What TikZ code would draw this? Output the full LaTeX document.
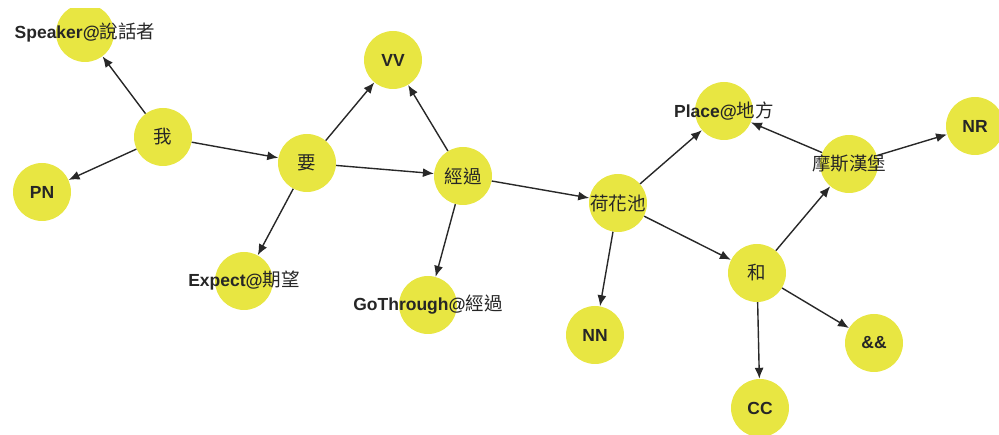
\documentclass[tikz,border=0pt]{standalone}
\usepackage{fontspec}
\setmainfont{Liberation Sans}
\newfontfamily\cjk{Noto Sans CJK TC}
\usetikzlibrary{arrows.meta}
\definecolor{nodeyellow}{RGB}{232,230,66}
\definecolor{edgegray}{RGB}{40,40,40}
\newcommand{\zhtext}[1]{{\cjk\mdseries\fontsize{18.5}{20}\selectfont #1}}

\begin{document}
\begin{tikzpicture}[x=1pt, y=-1pt,
		vertex/.style={shape=circle, fill=nodeyellow, minimum size=58pt, inner sep=0pt},
		tag/.style={label={[font=\fontsize{17.5}{20}\selectfont\bfseries, text=black!85, inner sep=0pt]center:#1}}]
				\useasboundingbox (0,0) rectangle (999,435);
				\clip (0,9) rectangle (999,435);
				\node[vertex, tag={Speaker@\zhtext{說話者}}] (speaker) at (85,33) {};
				\node[vertex, tag={\zhtext{我}}] (wo) at (163,137) {};
				\node[vertex, tag={PN}] (pn) at (42,192) {};
				\node[vertex, tag={\zhtext{要}}] (yao) at (307,163) {};
				\node[vertex, tag={VV}] (vv) at (393,60) {};
				\node[vertex, tag={\zhtext{經過}}] (jingguo) at (463,176) {};
				\node[vertex, tag={Expect@\zhtext{期望}}] (expect) at (244,281) {};
				\node[vertex, tag={GoThrough@\zhtext{經過}}] (gothrough) at (428,305) {};
				\node[vertex, tag={\zhtext{荷花池}}] (hehuachi) at (618,203) {};
				\node[vertex, tag={Place@\zhtext{地方}}] (place) at (724,111) {};
				\node[vertex, tag={\zhtext{摩斯漢堡}}] (mosi) at (849,164) {};
				\node[vertex, tag={NR}] (nr) at (975,126) {};
				\node[vertex, tag={\zhtext{和}}] (he) at (757,273) {};
				\node[vertex, tag={NN}] (nn) at (595,335) {};
				\node[vertex, tag={\&\&}] (andand) at (874,343) {};
				\node[vertex, tag={CC}] (cc) at (760,408) {};
				\begin{scope}[draw=edgegray, line width=1.4pt, -{Latex[length=11pt, width=9pt]}]
					\draw (wo) -- (speaker);
					\draw (wo) -- (pn);
					\draw (wo) -- (yao);
					\draw (yao) -- (vv);
					\draw (yao) -- (jingguo);
					\draw (yao) -- (expect);
					\draw (jingguo) -- (vv);
					\draw (jingguo) -- (gothrough);
					\draw (jingguo) -- (hehuachi);
					\draw (hehuachi) -- (place);
					\draw (hehuachi) -- (nn);
					\draw (hehuachi) -- (he);
					\draw (he) -- (mosi);
					\draw (he) -- (cc);
					\draw (he) -- (andand);
					\draw (mosi) -- (place);
					\draw (mosi) -- (nr);
				\end{scope}
			\end{tikzpicture}
\end{document}
